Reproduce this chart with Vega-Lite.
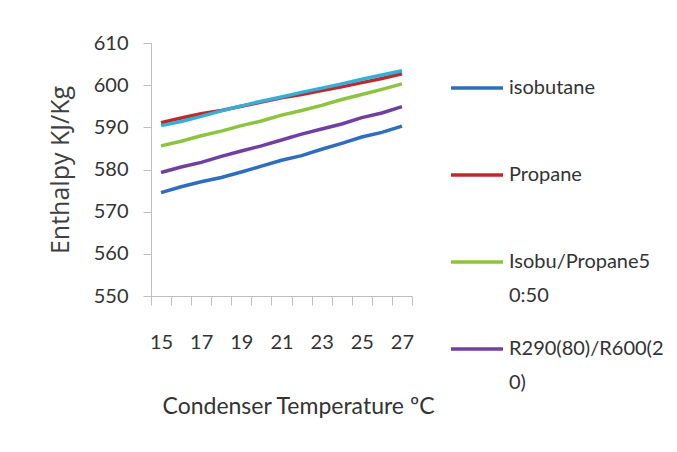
{
  "$schema": "https://vega.github.io/schema/vega-lite/v6.json",
  "width": 261,
  "height": 253,
  "autosize": {"type": "none"},
  "padding": {"left": 151, "top": 43, "right": 265, "bottom": 156},
  "background": "white",
  "config": {"view": {"stroke": null}, "font": "Lato"},
  "datasets": {
    "d": [
      {"s": "isobutane", "t": 15, "h": 574.5}, {"s": "isobutane", "t": 16, "h": 575.9}, {"s": "isobutane", "t": 17, "h": 577.1}, {"s": "isobutane", "t": 18, "h": 578.1}, {"s": "isobutane", "t": 19, "h": 579.4}, {"s": "isobutane", "t": 20, "h": 580.8}, {"s": "isobutane", "t": 21, "h": 582.2}, {"s": "isobutane", "t": 22, "h": 583.3}, {"s": "isobutane", "t": 23, "h": 584.8}, {"s": "isobutane", "t": 24, "h": 586.2}, {"s": "isobutane", "t": 25, "h": 587.7}, {"s": "isobutane", "t": 26, "h": 588.8}, {"s": "isobutane", "t": 27, "h": 590.3},
      {"s": "Propane", "t": 15, "h": 591.1}, {"s": "Propane", "t": 16, "h": 592.2}, {"s": "Propane", "t": 17, "h": 593.2}, {"s": "Propane", "t": 18, "h": 594.0}, {"s": "Propane", "t": 19, "h": 595.0}, {"s": "Propane", "t": 20, "h": 596.0}, {"s": "Propane", "t": 21, "h": 597.0}, {"s": "Propane", "t": 22, "h": 597.8}, {"s": "Propane", "t": 23, "h": 598.7}, {"s": "Propane", "t": 24, "h": 599.6}, {"s": "Propane", "t": 25, "h": 600.6}, {"s": "Propane", "t": 26, "h": 601.6}, {"s": "Propane", "t": 27, "h": 602.7},
      {"s": "Isobu/Propane50:50", "t": 15, "h": 585.6}, {"s": "Isobu/Propane50:50", "t": 16, "h": 586.7}, {"s": "Isobu/Propane50:50", "t": 17, "h": 588.0}, {"s": "Isobu/Propane50:50", "t": 18, "h": 589.1}, {"s": "Isobu/Propane50:50", "t": 19, "h": 590.4}, {"s": "Isobu/Propane50:50", "t": 20, "h": 591.5}, {"s": "Isobu/Propane50:50", "t": 21, "h": 592.9}, {"s": "Isobu/Propane50:50", "t": 22, "h": 594.0}, {"s": "Isobu/Propane50:50", "t": 23, "h": 595.2}, {"s": "Isobu/Propane50:50", "t": 24, "h": 596.6}, {"s": "Isobu/Propane50:50", "t": 25, "h": 597.8}, {"s": "Isobu/Propane50:50", "t": 26, "h": 599.0}, {"s": "Isobu/Propane50:50", "t": 27, "h": 600.3},
      {"s": "R290(80)/R600(20)", "t": 15, "h": 579.3}, {"s": "R290(80)/R600(20)", "t": 16, "h": 580.6}, {"s": "R290(80)/R600(20)", "t": 17, "h": 581.7}, {"s": "R290(80)/R600(20)", "t": 18, "h": 583.1}, {"s": "R290(80)/R600(20)", "t": 19, "h": 584.4}, {"s": "R290(80)/R600(20)", "t": 20, "h": 585.6}, {"s": "R290(80)/R600(20)", "t": 21, "h": 587.0}, {"s": "R290(80)/R600(20)", "t": 22, "h": 588.4}, {"s": "R290(80)/R600(20)", "t": 23, "h": 589.6}, {"s": "R290(80)/R600(20)", "t": 24, "h": 590.8}, {"s": "R290(80)/R600(20)", "t": 25, "h": 592.3}, {"s": "R290(80)/R600(20)", "t": 26, "h": 593.4}, {"s": "R290(80)/R600(20)", "t": 27, "h": 594.9},
      {"s": "R290(20)/R600(80)", "t": 15, "h": 590.4}, {"s": "R290(20)/R600(80)", "t": 16, "h": 591.4}, {"s": "R290(20)/R600(80)", "t": 17, "h": 592.6}, {"s": "R290(20)/R600(80)", "t": 18, "h": 593.9}, {"s": "R290(20)/R600(80)", "t": 19, "h": 595.1}, {"s": "R290(20)/R600(80)", "t": 20, "h": 596.2}, {"s": "R290(20)/R600(80)", "t": 21, "h": 597.2}, {"s": "R290(20)/R600(80)", "t": 22, "h": 598.3}, {"s": "R290(20)/R600(80)", "t": 23, "h": 599.3}, {"s": "R290(20)/R600(80)", "t": 24, "h": 600.3}, {"s": "R290(20)/R600(80)", "t": 25, "h": 601.4}, {"s": "R290(20)/R600(80)", "t": 26, "h": 602.4}, {"s": "R290(20)/R600(80)", "t": 27, "h": 603.4}
    ]
  },
  "data": {"name": "d"},
  "mark": {"type": "line", "strokeWidth": 3.5},
  "encoding": {
    "x": {
      "field": "t",
      "type": "ordinal",
      "scale": {"type": "band", "paddingInner": 0, "paddingOuter": 0},
      "axis": {
        "tickBand": "extent",
        "labelAngle": 0,
        "labelExpr": "datum.value % 2 == 1 ? datum.label : ''",
        "labelFontSize": 20,
        "labelColor": "#333333",
        "labelPadding": 27,
        "tickSize": 9,
        "tickColor": "#BFBFBF",
        "domainColor": "#BFBFBF",
        "grid": false,
        "title": "Condenser Temperature ºC",
        "titleFontSize": 23,
        "titleFontWeight": "normal",
        "titleColor": "#333333",
        "titleX": 147,
        "titleY": 117,
        "titleBaseline": "alphabetic",
        "titleAlign": "center"
      }
    },
    "y": {
      "field": "h",
      "type": "quantitative",
      "scale": {"domain": [550, 610], "zero": false, "nice": false},
      "axis": {
        "values": [550, 560, 570, 580, 590, 600, 610],
        "labelFontSize": 20,
        "labelColor": "#333333",
        "labelPadding": 15,
        "tickSize": 8,
        "tickColor": "#BFBFBF",
        "domainColor": "#BFBFBF",
        "grid": false,
        "title": "Enthalpy KJ/Kg",
        "titleFont": "Open Sans",
        "titleFontSize": 25,
        "titleFontWeight": "normal",
        "titleColor": "#404040",
        "titlePadding": 20
      }
    },
    "color": {
      "field": "s",
      "type": "nominal",
      "scale": {
        "domain": ["isobutane", "Propane", "Isobu/Propane50:50", "R290(80)/R600(20)", "R290(20)/R600(80)"],
        "range": ["#2E6EBE", "#C0282C", "#8CC43F", "#7040A0", "#33B0D8"]
      },
      "legend": {
        "values": ["isobutane", "Propane", "Isobu/Propane50:50", "R290(80)/R600(20)"],
        "title": null,
        "orient": "none",
        "legendX": 298,
        "legendY": 17,
        "symbolType": "stroke",
        "symbolSize": 2704,
        "symbolStrokeWidth": 3.5,
        "labelFontSize": 20,
        "labelColor": "#333333",
        "labelOffset": 4,
        "labelLimit": 300,
        "gridAlign": "all",
        "rowPadding": 15,
        "labelExpr": "datum.label == 'Isobu/Propane50:50' ? ['Isobu/Propane5', '0:50'] : datum.label == 'R290(80)/R600(20)' ? ['R290(80)/R600(2', '0)'] : datum.label",
        "encode": {"labels": {"update": {"lineHeight": {"value": 34}}}}
      }
    }
  }
}
